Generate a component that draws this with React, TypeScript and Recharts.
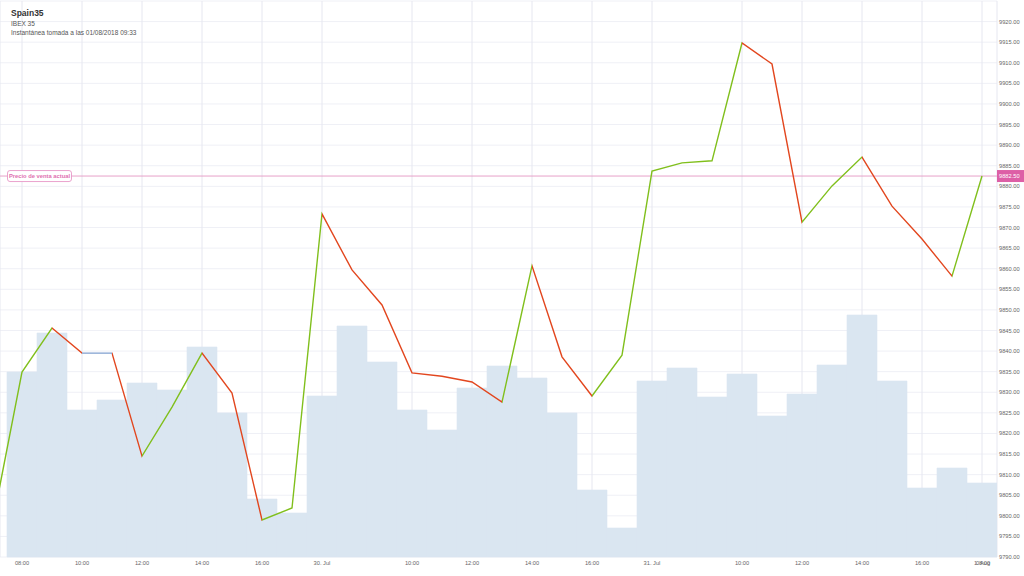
import React from 'react';
import { ComposedChart, Line, Bar, XAxis, YAxis, CartesianGrid, ReferenceLine } from 'recharts';

// Hourly points (07:00 .. 17:00 per session), last one 1 Aug 07:00
const prices = [
  9797.5, 9834.9, 9845.6, 9839.5, 9839.5, 9814.5, 9826.4, 9839.5, 9829.8, 9799.0, 9801.9,
  9873.3, 9859.7, 9851.2, 9834.7, 9833.9, 9832.5, 9827.6, 9860.7, 9838.6, 9829.1, 9839.0,
  9883.7, 9885.7, 9886.2, 9914.8, 9909.7, 9871.3, 9880.1, 9887.1, 9875.2, 9867.2, 9858.2,
  9882.5,
];
const volumes = [
  0, 185, 224, 147, 157, 174, 167, 210, 144, 58, 44,
  161, 231, 195, 147, 127, 169, 191, 179, 144, 67, 29,
  176, 189, 160, 183, 141, 163, 192, 242, 176, 69, 89,
  74,
];
const xTickIndex = [1, 3, 5, 7, 9, 11, 14, 16, 18, 20, 22, 25, 27, 29, 31, 33];
const xTickLabels = [
  '08:00', '10:00', '12:00', '14:00', '16:00', '30. Jul', '10:00', '12:00', '14:00', '16:00',
  '31. Jul', '10:00', '12:00', '14:00', '16:00', '1. Aug',
];
const overlapTickLabel = '08:00';
const priceTicks = [
  9790, 9795, 9800, 9805, 9810, 9815, 9820, 9825, 9830, 9835, 9840, 9845, 9850, 9855, 9860,
  9865, 9870, 9875, 9880, 9885, 9890, 9895, 9900, 9905, 9910, 9915, 9920, 9925,
];
const currentPrice = 9882.5;
const title = 'Spain35';
const subtitle1 = 'IBEX 35';
const subtitle2 = 'Instantánea tomada a las 01/08/2018 09:33';
const priceLabelText = 'Precio de venta actual';

const UP = '#80bf1c';
const DOWN = '#e2461e';
const FLAT = '#7f9fcf';
const FONT = '"Liberation Sans", Arial, Helvetica, sans-serif';

const data = prices.map((p, i) => ({ i, price: p, volume: volumes[i] }));

const XTick = (props: any) => {
  const { x, y, payload } = props;
  const idx = xTickIndex.indexOf(payload.value);
  const label = idx >= 0 ? xTickLabels[idx] : '';
  return (
    <g>
      <text x={x} y={y + 8} textAnchor="middle" fontSize={5.7} fill="#666">{label}</text>
      {idx === xTickIndex.length - 1 && (
        <text x={x + 1} y={y + 8} textAnchor="middle" fontSize={5.7} fill="#666">{overlapTickLabel}</text>
      )}
    </g>
  );
};

const PriceLabel = (props: any) => {
  const vb = props.viewBox || {};
  const y = vb.y;
  const x0 = vb.x;
  const x1 = vb.x + vb.width;
  return (
    <g>
      <rect x={x0 + 7.5} y={y - 5.5} width={64} height={11} rx={2.5} fill="#fff" stroke="#e58cc0" strokeWidth={0.8} />
      <text x={x0 + 39.5} y={y + 2} textAnchor="middle" fontSize={5.8} fontWeight="bold" fill="#e070b0">{priceLabelText}</text>
      <rect x={x1} y={y - 6} width={27} height={12} fill="#dd5fa6" />
      <text x={x1 + 2} y={y + 2} fontSize={5.7} fill="#fff">{currentPrice.toFixed(2)}</text>
    </g>
  );
};

export default function App() {
  const n = prices.length;
  const stops: any[] = [];
  for (let k = 0; k < n - 1; k++) {
    const c = prices[k + 1] > prices[k] ? UP : prices[k + 1] < prices[k] ? DOWN : FLAT;
    stops.push(<stop key={`a${k}`} offset={k / (n - 1)} stopColor={c} />);
    stops.push(<stop key={`b${k}`} offset={(k + 1) / (n - 1)} stopColor={c} />);
  }
  return (
    <div style={{ position: 'absolute', left: 0, top: 0, width: 1024, height: 576, background: '#fff', fontFamily: FONT }}>
      <ComposedChart width={1024} height={576} data={data} margin={{ top: 1, right: 0, bottom: 0, left: 0 }} barCategoryGap={0} barGap={0}>
        <defs>
          <linearGradient id="dirGrad" x1="0" y1="0" x2="1" y2="0">
            {stops}
          </linearGradient>
        </defs>
        <CartesianGrid horizontal={true} vertical={false} stroke="#eff0f6" strokeWidth={1} />
        <CartesianGrid horizontal={false} vertical={true} stroke="#e6e7f0" strokeWidth={1} />
        <XAxis
          dataKey="i"
          type="number"
          domain={[8 / 30, 33.5]}
          allowDataOverflow
          ticks={xTickIndex}
          interval={0}
          height={19}
          axisLine={false}
          tickLine={false}
          tickSize={0}
          tickMargin={0}
          tick={<XTick />}
        />
        <YAxis
          yAxisId={0}
          orientation="right"
          type="number"
          domain={[9790, 9925]}
          ticks={priceTicks}
          interval={0}
          width={27}
          axisLine={false}
          tickLine={false}
          tickSize={0}
          tickMargin={2}
          tick={{ fontSize: 5.7, fill: '#666' }}
          tickFormatter={(v: number) => (v === 9925 ? '' : v.toFixed(2))}
        />
        <YAxis yAxisId="vol" hide domain={[0, 556]} />
        <Bar yAxisId="vol" dataKey="volume" fill="#dae6f1" stroke="#dae6f1" strokeWidth={0.6} isAnimationActive={false} />
        <ReferenceLine yAxisId={0} y={currentPrice} stroke="#e7a2c9" strokeWidth={1} label={PriceLabel} />
        <Line
          yAxisId={0}
          type="linear"
          dataKey="price"
          stroke="url(#dirGrad)"
          strokeWidth={1.4}
          dot={false}
          activeDot={false}
          isAnimationActive={false}
        />
      </ComposedChart>
      <svg width={300} height={40} style={{ position: 'absolute', left: 0, top: 0 }}>
        <text x={11} y={16} fontSize={8.5} fontWeight="bold" fill="#333" fontFamily={FONT}>{title}</text>
        <text x={11} y={26} fontSize={6.5} fill="#555" fontFamily={FONT}>{subtitle1}</text>
        <text x={11} y={34.5} fontSize={6.5} fill="#555" fontFamily={FONT}>{subtitle2}</text>
      </svg>
    </div>
  );
}
